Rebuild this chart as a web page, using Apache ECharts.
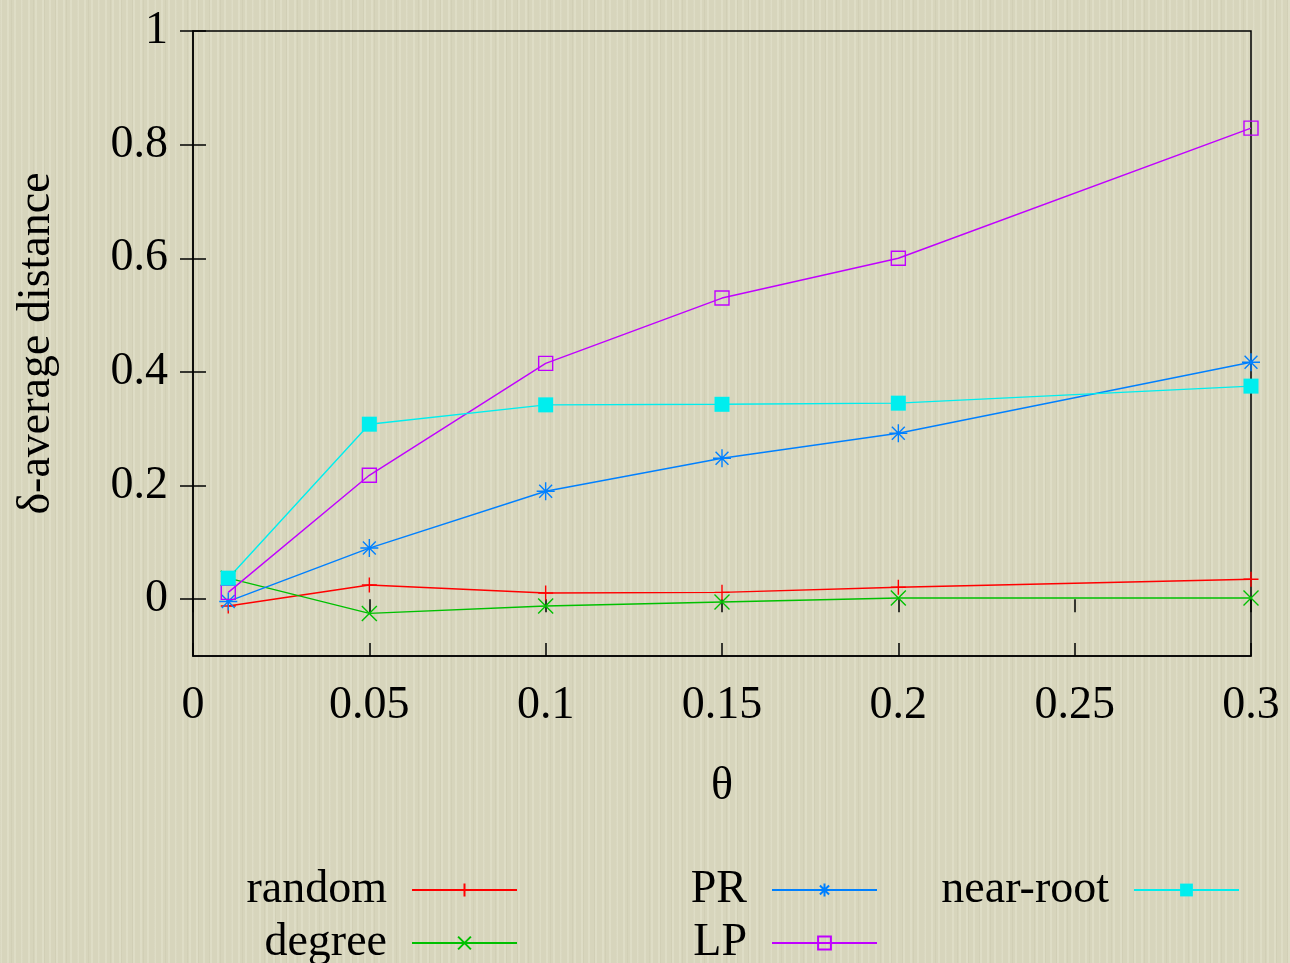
<!DOCTYPE html>
<html>
<head>
<meta charset="utf-8">
<title>δ-average distance vs θ</title>
<script src="https://cdn.jsdelivr.net/npm/echarts@6/dist/echarts.min.js"></script>
<style>
  html, body { margin: 0; padding: 0; }
  body {
    width: 1290px; height: 963px; overflow: hidden;
    background-color: #d7d5bc;
    background-image:
      repeating-linear-gradient(90deg, rgba(255,255,240,0.18) 0px, rgba(255,255,240,0.18) 2px, rgba(0,0,0,0) 2px, rgba(0,0,0,0) 7px),
      repeating-linear-gradient(90deg, rgba(120,115,80,0.06) 0px, rgba(120,115,80,0.06) 1px, rgba(0,0,0,0) 1px, rgba(0,0,0,0) 11px);
  }
  #chart { width: 1290px; height: 963px; }
</style>
</head>
<body>
<div id="chart"></div>
<script>
// theta values sampled
const thetas = [0.01, 0.05, 0.1, 0.15, 0.2, 0.3];

// delta-average distance for each selection strategy
const randomVals   = [-0.012, 0.025, 0.011, 0.012, 0.021, 0.035];
const degreeVals   = [0.037, -0.025, -0.012, -0.005, 0.002, 0.002];
const prVals       = [-0.004, 0.090, 0.190, 0.248, 0.292, 0.417];
const lpVals       = [0.012, 0.218, 0.415, 0.530, 0.600, 0.829];
const nearRootVals = [0.037, 0.308, 0.342, 0.343, 0.345, 0.375];

// axis ticks
const xTicks = [0, 0.05, 0.1, 0.15, 0.2, 0.25, 0.3];
const yTicks = [0, 0.2, 0.4, 0.6, 0.8, 1];

const FONT = '"Liberation Serif", "DejaVu Serif", serif';
const FONT_SIZE = 46;
const fmt = v => String(+Number(v).toFixed(2));

const pair = vals => thetas.map((t, i) => [t, vals[i]]);

const SYM_PLUS = 'path://M0,7H14M7,0V14';
const SYM_CROSS = 'path://M0,0L14,14M14,0L0,14';
const SYM_STAR = 'path://M0,7H14M7,0V14M2,2L12,12M12,2L2,12';

function lineSeries(name, vals, color, symbol, size, filled) {
  return {
    name: name,
    type: 'line',
    data: pair(vals),
    symbol: symbol,
    symbolSize: size,
    showAllSymbol: true,
    lineStyle: { color: color, width: 1.4 },
    itemStyle: {
      color: filled ? color : 'rgba(0,0,0,0)',
      borderColor: color,
      borderWidth: filled === 'solid' ? 0 : 1.4
    },
    emphasis: { disabled: true },
    z: 3
  };
}

const series = [
  lineSeries('random', randomVals, '#ff0000', SYM_PLUS, 15, true),
  lineSeries('degree', degreeVals, '#00c000', SYM_CROSS, 15, true),
  lineSeries('PR', prVals, '#0080ff', SYM_STAR, 18, true),
  lineSeries('LP', lpVals, '#c000ff', 'rect', 14, false),
  lineSeries('near-root', nearRootVals, '#00eeee', 'rect', 15, 'solid')
];

// one legend entry per slot so the labels right-align against their samples
const legendSlots = [
  { name: 'random',    right: 772, top: 865 },
  { name: 'degree',    right: 772, top: 918 },
  { name: 'PR',        right: 412, top: 865 },
  { name: 'LP',        right: 412, top: 918 },
  { name: 'near-root', right: 50,  top: 865 }
];

const legends = legendSlots.map(s => ({
  data: [s.name],
  right: s.right,
  top: s.top,
  orient: 'horizontal',
  align: 'right',
  padding: 0,
  itemWidth: 105,
  itemHeight: 16,
  selectedMode: false,
  textStyle: {
    fontFamily: FONT,
    fontSize: FONT_SIZE,
    color: '#000',
    lineHeight: 50,
    padding: [0, 20, 0, 0]
  }
}));

const axisFont = { fontFamily: FONT, fontSize: FONT_SIZE, color: '#000' };

const chart = echarts.init(document.getElementById('chart'), null, { renderer: 'canvas' });

chart.setOption({
  animation: false,
  backgroundColor: 'transparent',
  legend: legends,
  grid: {
    left: 193, right: 39, top: 31, bottom: 307,
    show: true, borderColor: '#000', borderWidth: 1.5,
    backgroundColor: 'transparent'
  },
  xAxis: [
    {
      type: 'value', min: 0, max: 0.3, interval: 0.05,
      name: 'θ', nameLocation: 'middle', nameGap: 108,
      nameTextStyle: axisFont,
      axisLine: { show: true, onZero: false, lineStyle: { color: '#000', width: 1.5 } },
      axisTick: { inside: true, length: 13, lineStyle: { color: '#000', width: 1.5 } },
      axisLabel: Object.assign({ margin: 27, formatter: fmt, customValues: xTicks }, axisFont),
      splitLine: { show: false }
    },
    {
      type: 'value', min: 0, max: 0.3, interval: 0.05, position: 'top',
      axisLine: { show: false },
      axisTick: { inside: true, length: 13, lineStyle: { color: '#000', width: 1.5 } },
      axisLabel: { show: false },
      splitLine: { show: false }
    }
  ],
  yAxis: [
    {
      type: 'value', min: -0.1, max: 1,
      name: 'δ-average distance', nameLocation: 'middle', nameGap: 133, nameRotate: 90,
      nameTextStyle: axisFont,
      axisLine: { show: true, onZero: false, lineStyle: { color: '#000', width: 1.5 } },
      axisTick: { inside: true, length: 13, customValues: yTicks, lineStyle: { color: '#000', width: 1.5 } },
      axisLabel: Object.assign({ margin: 25, formatter: fmt, customValues: yTicks }, axisFont),
      splitLine: { show: false }
    },
    {
      type: 'value', min: -0.1, max: 1, position: 'right',
      axisLine: { show: false },
      axisTick: { inside: true, length: 13, customValues: yTicks, lineStyle: { color: '#000', width: 1.5 } },
      axisLabel: { show: false },
      splitLine: { show: false }
    }
  ],
  series: series
});
</script>
</body>
</html>
